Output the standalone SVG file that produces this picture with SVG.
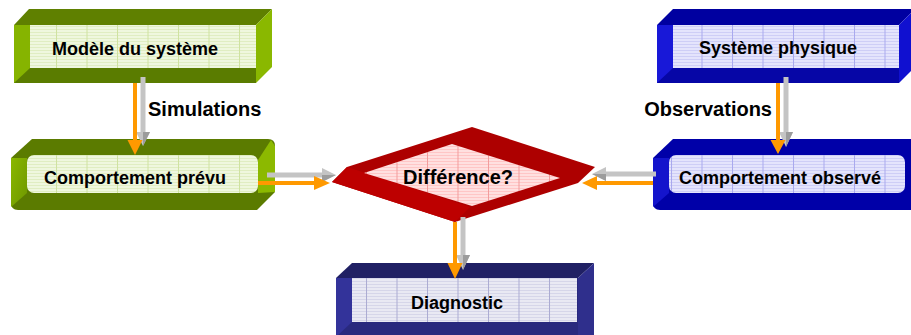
<svg xmlns="http://www.w3.org/2000/svg" width="911" height="335" viewBox="0 0 911 335">
<defs>
<pattern id="gG" patternUnits="userSpaceOnUse" x="25.5" y="0" width="30.5" height="3">
<rect width="30.5" height="3" fill="#eff7de"/>
<rect y="2" width="30.5" height="1" fill="#e0edc2"/>
<rect width="1" height="3" fill="#cfe2a0"/>
</pattern>
<pattern id="gB" patternUnits="userSpaceOnUse" x="0" y="0" width="30.5" height="3">
<rect width="30.5" height="3" fill="#e4e4fc"/>
<rect y="2" width="30.5" height="1" fill="#ceceF6"/>
<rect width="1" height="3" fill="#a9a9ee"/>
</pattern>
<pattern id="gN" patternUnits="userSpaceOnUse" x="0" y="0" width="30.5" height="3">
<rect width="30.5" height="3" fill="#e9e9f3"/>
<rect y="2" width="30.5" height="1" fill="#d6d6e9"/>
<rect width="1" height="3" fill="#ababd2"/>
</pattern>
<pattern id="gR" patternUnits="userSpaceOnUse" x="0" y="0" width="30.5" height="3">
<rect width="30.5" height="3" fill="#ffe0e0"/>
<rect y="2" width="30.5" height="1" fill="#ffc6c6"/>
<rect width="1" height="3" fill="#f29c9c"/>
</pattern>
<linearGradient id="lgG" x1="0" y1="0" x2="1" y2="1">
<stop offset="0" stop-color="#8ab800"/>
<stop offset="1" stop-color="#6e9600"/>
</linearGradient>
</defs>
<style>
.t{font-family:"Liberation Sans",Arial,sans-serif;font-weight:bold;font-size:18px;fill:#000;text-anchor:middle}
.lbl{font-family:"Liberation Sans",Arial,sans-serif;font-weight:bold;font-size:20px;fill:#000}
.og{stroke:#ff9900;stroke-width:4;fill:none}
.oh{fill:#ff9900}
.gl{stroke:#c4c4c4;stroke-width:5;fill:none}
.gh{fill:#c4c4c4}
.gd{fill:#9c9c9c}
</style>

<g id="n-modele">
<polygon points="14,25 29,9 272,9 256,25" fill="#5f8000"/>
<polygon points="256,25 272,9 272,67 256,83" fill="#8ab800"/>
<rect x="14" y="25" width="242" height="58" fill="#5a7c00"/>
<polygon points="14,25 30,25 30,68 14,83" fill="#86b400"/>
<rect x="30" y="25" width="226" height="43" fill="url(#gG)"/>
<text class="t" x="135" y="55">Modèle du système</text>
</g>

<g id="n-prevu">
<path d="M32,139 H268 Q275,139 275,146 V192 L257,210 H18 Q11,210 11,203 V158 Z" fill="#5b7b00"/>
<polygon points="11,158 27,158 27,193 11,207" fill="url(#lgG)"/>
<polygon points="258,160 271,140 275,146 275,192 258,193" fill="#8cb900"/>
<rect x="27" y="155" width="231" height="38" rx="7" fill="url(#gG)"/>
<text class="t" x="135" y="184">Comportement prévu</text>
</g>

<g id="n-systeme">
<polygon points="657,25 673,9 915,9 899,25" fill="#0000a0"/>
<polygon points="899,25 915,9 915,67 899,83" fill="#1010d0"/>
<rect x="657" y="25" width="242" height="58" fill="#0606a6"/>
<polygon points="657,25 673,25 673,68 657,83" fill="#1818d8"/>
<rect x="673" y="25" width="226" height="43" fill="url(#gB)"/>
<text class="t" x="778" y="54">Système physique</text>
</g>

<g id="n-observe">
<path d="M673,139 H920 V210 H660 Q653,210 653,203 V158 Z" fill="#0000a8"/>
<polygon points="653,158 669,158 669,193 653,207" fill="#1414cc"/>
<rect x="669" y="155" width="236" height="38" rx="7" fill="url(#gB)"/>
<text class="t" x="780" y="183.5">Comportement observé</text>
</g>

<g id="n-diff">
<polygon points="472,127 595,167 578,183 455,222 332,182 347,167" fill="#ad0000"/>
<polygon points="332,182 347,167 470,207 455,222" fill="#bd0000"/>
<polygon points="364,173 452,144 560,178 472,206" fill="url(#gR)"/>
<text class="t" style="font-size:20px" x="458" y="183.5">Différence?</text>
</g>

<g id="n-diag">
<polygon points="336,278 352,263 594,263 578,278" fill="#202064"/>
<polygon points="578,278 594,263 594,340 578,340" fill="#2f2f8c"/>
<rect x="336" y="278" width="242" height="60" fill="#29297e"/>
<polygon points="336,278 352,278 352,322 336,337" fill="#33339a"/>
<rect x="352" y="278" width="225" height="44" fill="url(#gN)"/>
<text class="t" x="457" y="309">Diagnostic</text>
</g>

<g id="connectors">
<line class="gl" x1="143" y1="77" x2="143" y2="133"/>
<polygon class="gh" points="136,132 150,132 143,146"/>
<polygon class="gd" points="143,132 150,132 143,146"/>
<line class="og" x1="135" y1="83" x2="135" y2="141"/>
<polygon class="oh" points="127.5,140 142.5,140 135,155"/>

<line class="gl" x1="786" y1="77" x2="786" y2="133"/>
<polygon class="gh" points="779,132 793,132 786,147"/>
<polygon class="gd" points="786,132 793,132 786,147"/>
<line class="og" x1="778" y1="83" x2="778" y2="141"/>
<polygon class="oh" points="770.5,140 785.5,140 778,154"/>

<line class="gl" x1="267" y1="175" x2="323" y2="175"/>
<polygon class="gh" points="322,168 322,182 336,175"/>
<polygon class="gd" points="322,175 322,182 336,175"/>
<line class="og" x1="258" y1="183" x2="315" y2="183"/>
<polygon class="oh" points="314,176 314,190 330,183"/>

<line class="gl" x1="656" y1="174" x2="605" y2="174"/>
<polygon class="gh" points="606,167 606,181 592,174"/>
<polygon class="gd" points="606,174 606,181 592,174"/>
<line class="og" x1="653" y1="183" x2="596" y2="183"/>
<polygon class="oh" points="597,176 597,190 582,183"/>

<line class="gl" x1="463" y1="217" x2="463" y2="256"/>
<polygon class="gh" points="456,255 470,255 463,270"/>
<polygon class="gd" points="463,255 470,255 463,270"/>
<line class="og" x1="455" y1="222" x2="455" y2="264"/>
<polygon class="oh" points="447.5,263 462.5,263 455,279"/>

<text class="lbl" x="148" y="116">Simulations</text>
<text class="lbl" x="772" y="116" text-anchor="end">Observations</text>
</g>
</svg>
